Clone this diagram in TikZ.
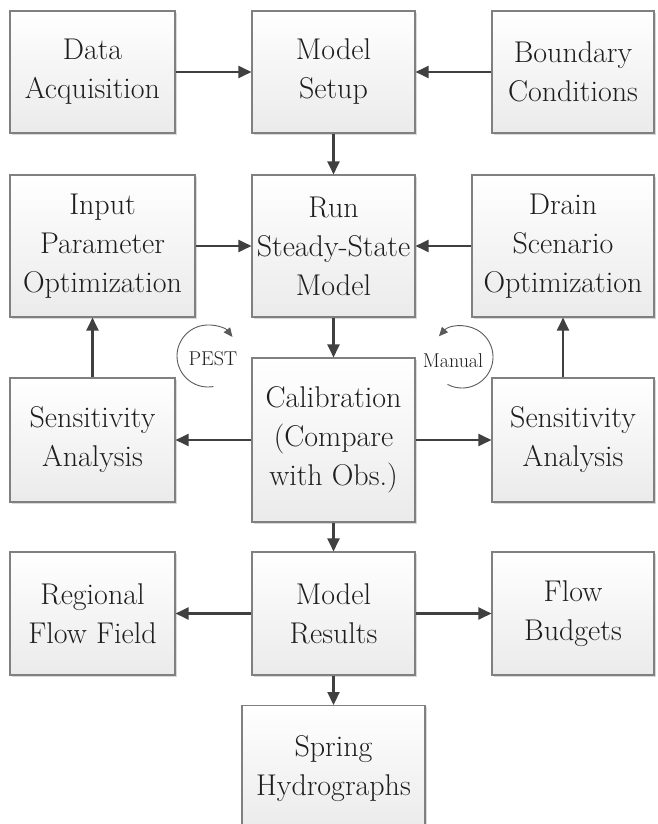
\documentclass[tikz,border=0pt]{standalone}
\usetikzlibrary{arrows.meta,shadows}
\definecolor{boxline}{HTML}{808080}
\definecolor{flowline}{HTML}{404040}
\definecolor{loopline}{HTML}{5A5A5A}
\definecolor{txt}{HTML}{1E1E1E}
\tikzset{
  stage/.style={draw=boxline, line width=1.1pt, top color=white, bottom color=black!8,
    drop shadow={shadow xshift=1.6pt, shadow yshift=-1.6pt, fill=black, opacity=0.15},
    align=center, inner sep=0pt, text=txt,
    font=\fontsize{30}{39}\selectfont},
  flow/.style={draw=flowline, line width=2.2pt, -{Triangle[length=13pt,width=12pt]}},
  loop/.style={draw=loopline, line width=0.9pt, -{Triangle[length=9pt,width=8pt]}},
  looplabel/.style={text=txt, inner sep=0pt, font=\fontsize{20}{22}\selectfont}
}
\begin{document}
\begin{tikzpicture}[x=1pt,y=-1pt]
\useasboundingbox (0,0) rectangle (658,824);
\fill[white] (0,0) rectangle (658,824);

% first row
\node[stage, minimum width=165pt, minimum height=122pt] (data) at (92.5,72) {Data\\Acquisition};
\node[stage, minimum width=163pt, minimum height=122pt] (setup) at (333.5,72) {Model\\Setup};
\node[stage, minimum width=162pt, minimum height=122pt] (bound) at (573,72) {Boundary\\Conditions};

% second row
\node[stage, minimum width=185pt, minimum height=142pt] (input) at (102.5,246) {Input\\Parameter\\Optimization};
\node[stage, minimum width=163pt, minimum height=142pt] (run) at (333.5,246) {Run\\Steady-State\\Model};
\node[stage, minimum width=182pt, minimum height=142pt] (drain) at (563,246) {Drain\\Scenario\\Optimization};

% third row
\node[stage, minimum width=165pt, minimum height=124pt] (sensl) at (92.5,440) {Sensitivity\\Analysis};
\node[stage, minimum width=163pt, minimum height=164pt] (calib) at (333.5,440) {Calibration\\(Compare\\with Obs.)};
\node[stage, minimum width=162pt, minimum height=124pt] (sensr) at (573,440) {Sensitivity\\Analysis};

% fourth row
\node[stage, minimum width=165pt, minimum height=123pt] (regional) at (92.5,613.5) {Regional\\Flow Field};
\node[stage, minimum width=163pt, minimum height=123pt] (results) at (333.5,613.5) {Model\\Results};
\node[stage, minimum width=162pt, minimum height=123pt] (budgets) at (573,613.5) {Flow\\Budgets};

% last box, running off the lower edge
\node[stage, minimum width=183pt, minimum height=125pt, anchor=north] (spring) at (333.5,705) {\raisebox{6pt}{\begin{tabular}{@{}c@{}}Spring\\Hydrographs\end{tabular}}};

% connectors
\draw[flow] (data) -- (setup);
\draw[flow] (bound) -- (setup);
\draw[flow] (setup) -- (run);
\draw[flow] (input.east |- run) -- (run);
\draw[flow] (drain) -- (run);
\draw[flow] (run) -- (calib);
\draw[flow] (calib) -- (sensl);
\draw[flow] (calib) -- (sensr);
\draw[flow] (sensl.north) -- (sensl.north |- input.south);
\draw[flow] (drain.south |- sensr.north) -- (drain.south);
\draw[flow] (calib) -- (results);
\draw[flow] (results) -- (regional);
\draw[flow] (results) -- (budgets);
\draw[flow] (results) -- (spring);

% iteration loops
\coordinate (pestc) at (208,356);
\coordinate (manc) at (462,357);
\draw[loop] (pestc) ++(80:31) arc[start angle=80, end angle=322, radius=31];
\draw[loop] (manc) ++(118:31) arc[start angle=118, end angle=-138, radius=31];
\node[looplabel] (pest) at (213,359) {PEST};
\node[looplabel] (manual) at (453,361) {Manual};
\end{tikzpicture}
\end{document}
